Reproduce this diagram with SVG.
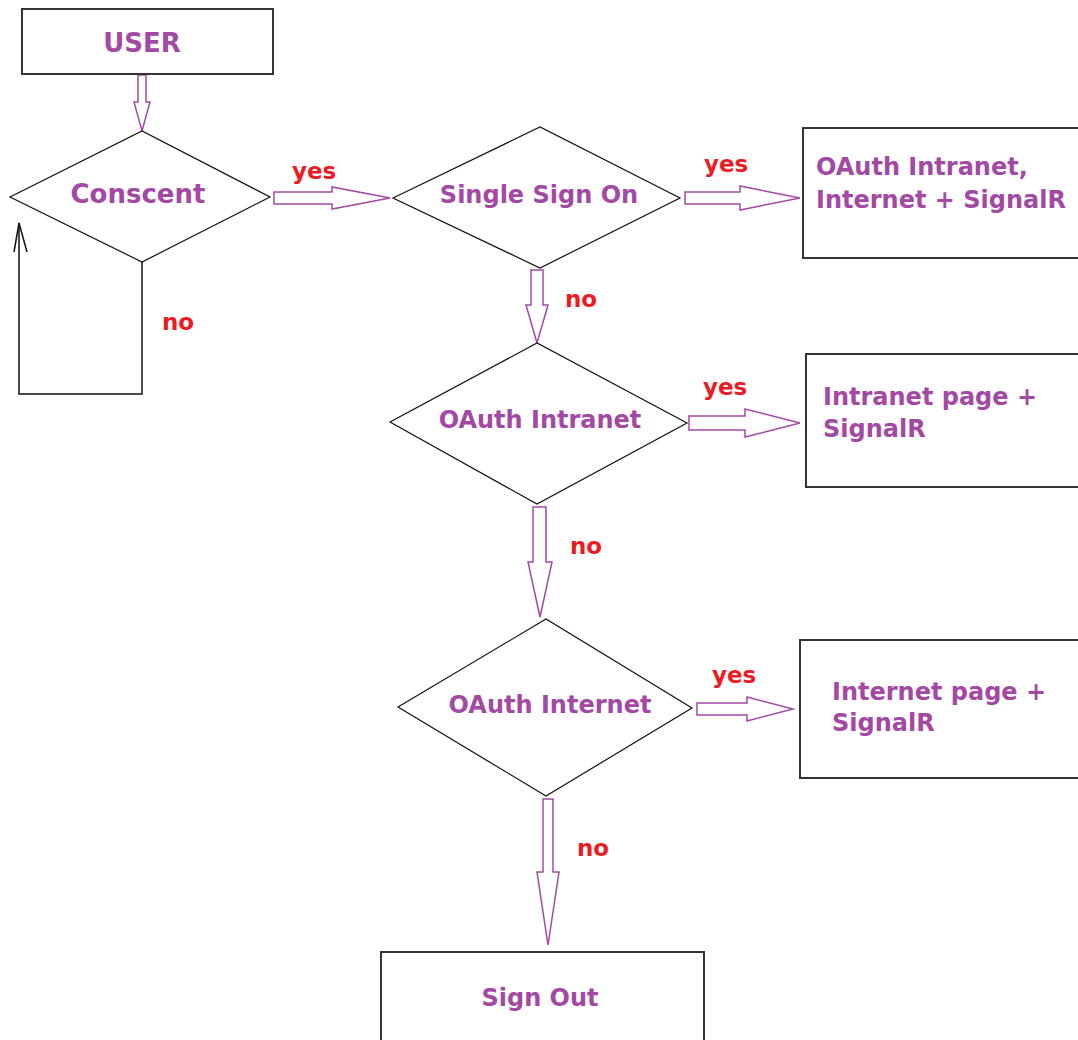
<svg xmlns="http://www.w3.org/2000/svg" width="1078" height="1040" viewBox="0 0 1078 1040">
<style>
.box{fill:#fff;stroke:#333;stroke-width:2}
.dia{fill:#fff;stroke:#111;stroke-width:1.2}
.t{font-family:"DejaVu Sans","Liberation Sans",sans-serif;font-weight:bold;fill:#A349A4;font-size:24px}
.lbl{font-family:"DejaVu Sans","Liberation Sans",sans-serif;font-weight:bold;fill:#ED1C24;font-size:23px}
.arr{fill:#fff;stroke:#A349A4;stroke-width:1.5;stroke-linejoin:miter}
.ln{fill:none;stroke:#111;stroke-width:1.5}
</style>
<rect width="1078" height="1040" fill="#fff"/>
<g id="connectors">
<polygon class="arr" points="138,75 146,75 146,102 150,102 142,131 134,102 138,102"/>
<polyline class="ln" points="142,262 142,394 19,394 19,223"/>
<polyline class="ln" points="14,252 19,223 27,252"/>
<polygon class="arr" points="274,192 332,192 332,187 390,198 332,209 332,204 274,204"/>
<polygon class="arr" points="685,192 740,192 740,186 800,198 740,210 740,204 685,204"/>
<polygon class="arr" points="531,270 543,270 543,305 548,305 537,343 526,305 531,305"/>
<polygon class="arr" points="689,416 745,416 745,409 800,423 745,437 745,430 689,430"/>
<polygon class="arr" points="533,507 546,507 546,562 552,562 540,617 528,562 533,562"/>
<polygon class="arr" points="697,703 747,703 747,697 793,709 747,721 747,715 697,715"/>
<polygon class="arr" points="543,799 553,799 553,872 559,872 548,945 537,872 543,872"/>
<text class="lbl" x="292" y="179">yes</text>
<text class="lbl" x="162" y="330">no</text>
<text class="lbl" x="704" y="172">yes</text>
<text class="lbl" x="565" y="307">no</text>
<text class="lbl" x="703" y="395">yes</text>
<text class="lbl" x="570" y="554">no</text>
<text class="lbl" x="712" y="683">yes</text>
<text class="lbl" x="577" y="856">no</text>
</g>
<g id="user">
<rect class="box" x="22" y="9" width="251" height="65"/>
<text class="t" x="142" y="52" text-anchor="middle" style="font-size:26px">USER</text>
</g>
<g id="conscent">
<polygon class="dia" points="10,197 142,131 270,197 142,262"/>
<text class="t" x="138" y="203" text-anchor="middle" style="font-size:26px">Conscent</text>
</g>
<g id="sso">
<polygon class="dia" points="393,198 540,127 680,198 540,268"/>
<text class="t" x="539" y="203" text-anchor="middle">Single Sign On</text>
</g>
<g id="oauth-both">
<rect class="box" x="803" y="128" width="290" height="130"/>
<text class="t" x="816" y="175">OAuth Intranet,</text>
<text class="t" x="816" y="208">Internet + SignalR</text>
</g>
<g id="oauth-intranet">
<polygon class="dia" points="390,422 537,343 687,423 537,504"/>
<text class="t" x="540" y="428" text-anchor="middle">OAuth Intranet</text>
</g>
<g id="intranet-page">
<rect class="box" x="806" y="354" width="290" height="133"/>
<text class="t" x="823" y="405">Intranet page +</text>
<text class="t" x="823" y="437">SignalR</text>
</g>
<g id="oauth-internet">
<polygon class="dia" points="398,707 546,619 692,708 546,796"/>
<text class="t" x="550" y="713" text-anchor="middle">OAuth Internet</text>
</g>
<g id="internet-page">
<rect class="box" x="800" y="640" width="290" height="138"/>
<text class="t" x="832" y="700">Internet page +</text>
<text class="t" x="832" y="731">SignalR</text>
</g>
<g id="sign-out">
<rect class="box" x="381" y="952" width="323" height="100"/>
<text class="t" x="540" y="1006" text-anchor="middle">Sign Out</text>
</g>
</svg>
